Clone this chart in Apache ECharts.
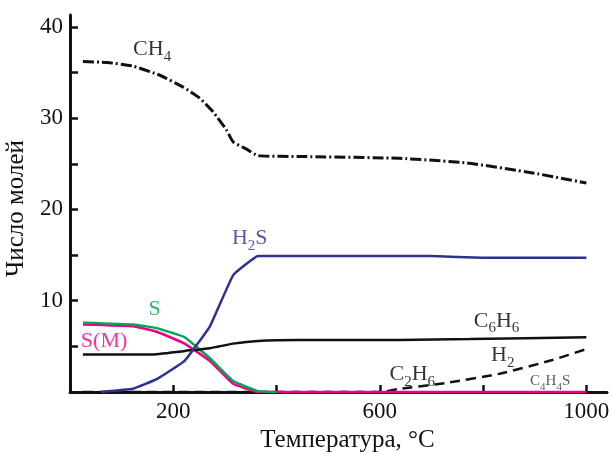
<!DOCTYPE html>
<html><head><meta charset="utf-8">
<script src="https://cdn.jsdelivr.net/npm/echarts@6/dist/echarts.min.js"></script>
<style>html,body{margin:0;padding:0;background:#fff}#c{width:613px;height:452px}</style>
</head><body><div id="c"></div>
<script>
// Temperature (°C) and number of moles
const ch4 = [[25,36.2],[72,36.1],[122,35.7],[174,34.7],[219,33.4],[251,32.2],[277,30.7],[303,28.7],[316,27.4],[342,26.6],[364,25.9],[449,25.8],[638,25.6],[768,25.1],[896,24.0],[1000,22.9]];
const h2s = [[60,0.0],[122,0.35],[168,1.4],[222,3.4],[271,7.2],[316,12.8],[364,14.9],[450,14.9],[700,14.9],[800,14.7],[1000,14.7]];
const sTot = [[25,7.6],[122,7.4],[168,7.0],[222,6.0],[271,3.7],[316,1.2],[364,0.1],[400,0.0]];
const sM = [[25,7.4],[122,7.2],[168,6.6],[222,5.3],[271,3.4],[316,0.9],[364,0.0],[1000,0.0]];
const c6h6 = [[25,4.1],[155,4.1],[222,4.5],[271,4.8],[316,5.3],[364,5.6],[445,5.7],[638,5.7],[774,5.8],[1000,6.0]];
const h2 = [[25,0.0],[600,0.0],[638,0.35],[729,1.0],[832,2.0],[934,3.5],[1000,4.7]];
const xTicks = [200,400,600,800,1000];
const xLabels = [200,600,1000];
const yTicks = [5,10,15,20,25,30,35,40];
const yLabels = [10,20,30,40];
// label anchor points (data coordinates) and texts
const labelPts = [
  {at:[159,37.5], text:'{m|CH}{s|4}', color:'#000'},
  {at:[348,16.8], text:'{m|H}{s|2}{m|S}', color:'#2E3192'},
  {at:[164,9.1], text:'{m|S}', color:'#00A651'},
  {at:[66,5.6], text:'{m|S(M)}', color:'#EC008C'},
  {at:[826,7.8], text:'{m|C}{s|6}{m|H}{s|6}', color:'#000'},
  {at:[663,1.9], text:'{m|C}{s|2}{m|H}{s|6}', color:'#000'},
  {at:[838,4.0], text:'{m|H}{s|2}', color:'#000'},
  {at:[930,1.2], text:'{sm|C}{ss|4}{sm|H}{ss|4}{sm|S}', color:'#333'}
];

const FONT = 'Liberation Serif';
function richFor(color){
  return {
    m:{fontFamily:FONT,fontSize:22,lineHeight:30,verticalAlign:'middle',color:color},
    s:{fontFamily:FONT,fontSize:15,lineHeight:30,verticalAlign:'bottom',color:color},
    sm:{fontFamily:FONT,fontSize:15,lineHeight:24,verticalAlign:'middle',color:color},
    ss:{fontFamily:FONT,fontSize:11,lineHeight:24,verticalAlign:'bottom',color:color}
  };
}
function series(data, color, width, type, sm){
  return {type:'line', data:data, showSymbol:false, symbol:'none', silent:true, smooth:sm,
    lineStyle:{color:color, width:width, type:type}, z:3};
}
const chart = echarts.init(document.getElementById('c'));
chart.setOption({
  animation:false,
  grid:{left:70,right:6,top:15,bottom:60,containLabel:false,outerBoundsMode:'none'},
  xAxis:{type:'value', min:0, max:1040,
    axisLine:{lineStyle:{color:'#111',width:3}},
    axisTick:{inside:true,length:7,customValues:xTicks,lineStyle:{color:'#111',width:2.5}},
    axisLabel:{customValues:xLabels,color:'#111',fontFamily:FONT,fontSize:23,margin:8,formatter:v=>String(v)},
    splitLine:{show:false},
    name:'Температура, °C', nameLocation:'middle', nameGap:34,
    nameTextStyle:{color:'#111',fontFamily:FONT,fontSize:25,padding:[0,0,0,18]}},
  yAxis:{type:'value', min:0, max:41.3,
    axisLine:{show:true,lineStyle:{color:'#111',width:3}},
    axisTick:{show:true,inside:true,length:8,customValues:yTicks,lineStyle:{color:'#111',width:2.5}},
    axisLabel:{customValues:yLabels,color:'#111',fontFamily:FONT,fontSize:23,margin:7},
    splitLine:{show:false},
    name:'Число молей', nameLocation:'middle', nameGap:24,
    nameTextStyle:{color:'#111',fontFamily:FONT,fontSize:25,padding:[0,0,0,-10]}},
  series:[
    series(h2, '#111', 2.5, [10,6], 0.2),
    series(sM, '#EC008C', 2.5, 'solid', 0.1),
    series(sTot, '#00A651', 2.5, 'solid', 0.1),
    series(c6h6, '#111', 2.5, 'solid', 0.2),
    series(h2s, '#2E3192', 2.5, 'solid', 0.08),
    series(ch4, '#111', 3, [11,3,2,3], 0.15),
    {type:'scatter', silent:true, symbolSize:1, itemStyle:{color:'rgba(0,0,0,0)'}, z:5,
     data: labelPts.map(p=>({value:p.at,
       label:{show:true, position:'inside', formatter:p.text, color:p.color, rich:richFor(p.color)}}))}
  ]
});
</script></body></html>
